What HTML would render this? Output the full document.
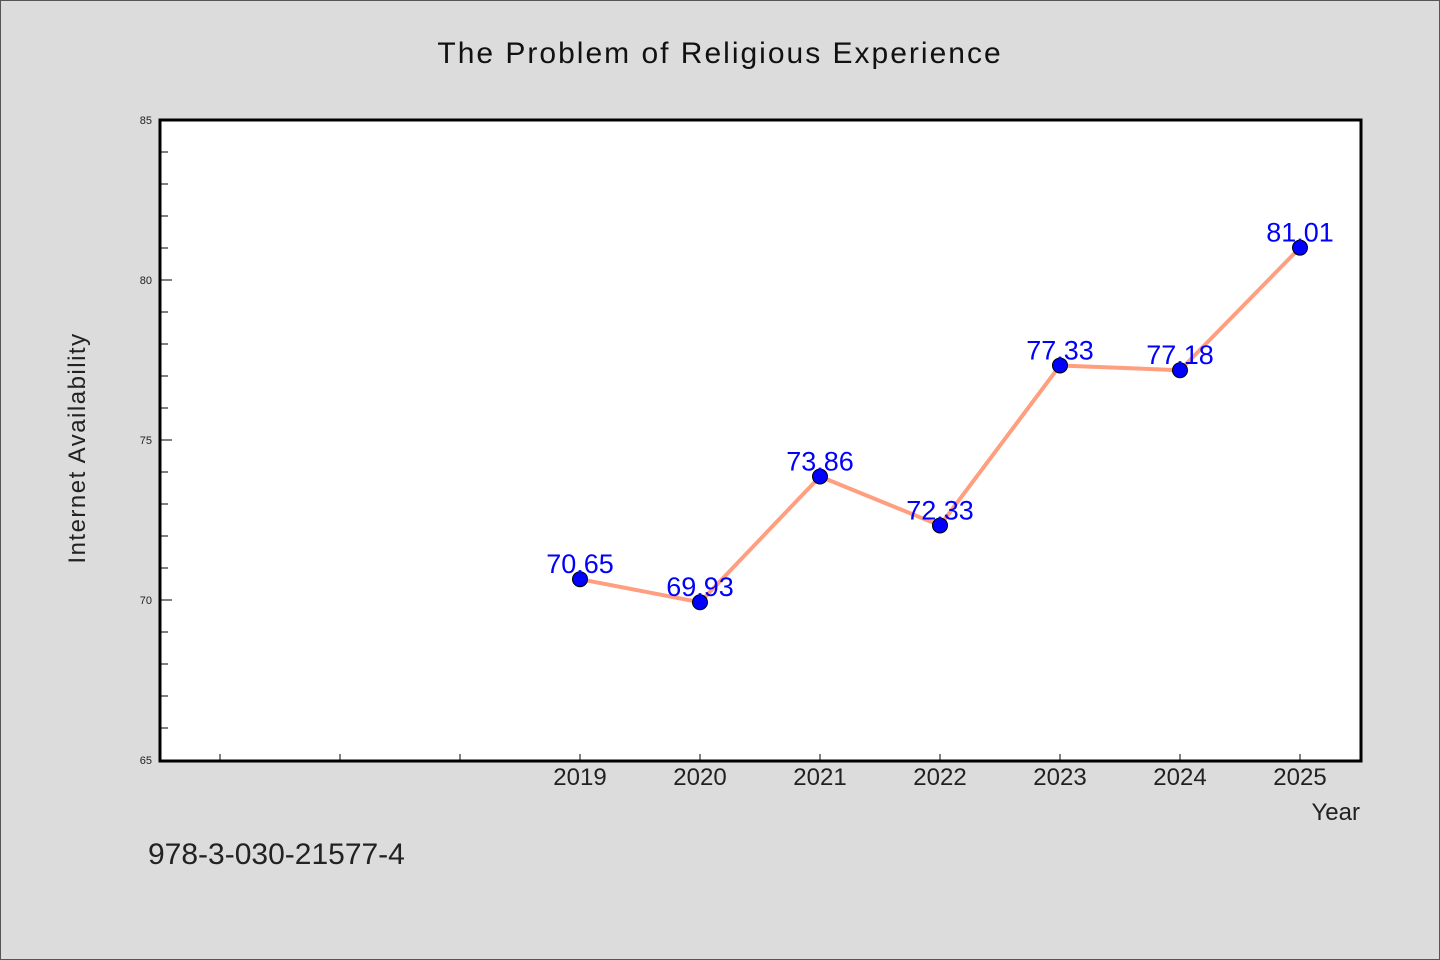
<!DOCTYPE html>
<html><head><meta charset="utf-8"><style>
html,body{margin:0;padding:0;background:#dcdcdc;}
svg{display:block;}
text{font-family:"WenQuanYi Zen Hei","Liberation Sans",sans-serif;}
</style></head><body>
<svg id="chart" width="1440" height="960" xmlns="http://www.w3.org/2000/svg">
<rect x="0.5" y="0.5" width="1439" height="959" fill="#dcdcdc" stroke="#555"/>
<text x="720" y="63" text-anchor="middle" font-size="30" fill="#111" letter-spacing="2">The Problem of Religious Experience</text>
<rect x="160" y="120" width="1201" height="641" fill="#fff"/>
<g id="axes"></g>
<g id="series"></g>
<rect x="160" y="120" width="1201" height="641" fill="none" stroke="#000" stroke-width="3"/>
<text x="85" y="448" text-anchor="middle" font-size="24" fill="#222" letter-spacing="1.5" transform="rotate(-90 85 448)">Internet Availability</text>
<text x="1360" y="820" text-anchor="end" font-size="24" fill="#222">Year</text>
<text x="148" y="864" font-size="30" fill="#222">978-3-030-21577-4</text>
</svg>
<script>
const years = [2019, 2020, 2021, 2022, 2023, 2024, 2025];
const values = [70.65, 69.93, 73.86, 72.33, 77.33, 77.18, 81.01];
const yTicks = [65, 70, 75, 80, 85];
const xTickYears = [2016, 2017, 2018, 2019, 2020, 2021, 2022, 2023, 2024, 2025];

const NS = "http://www.w3.org/2000/svg";
const X0 = 160, X1 = 1360, Y0 = 760, Y1 = 120;
const xMin = 2015.5, xMax = 2025.5, yMin = 65, yMax = 85;
function xs(v){ return X0 + (v - xMin) / (xMax - xMin) * (X1 - X0); }
function ys(v){ return Y0 - (v - yMin) / (yMax - yMin) * (Y0 - Y1); }
function mk(tag, attrs, parent){ const e = document.createElementNS(NS, tag); for (const k in attrs) e.setAttribute(k, attrs[k]); parent.appendChild(e); return e; }

const axes = document.getElementById('axes');
for (let v = yMin; v <= yMax; v += 1) {
  const major = yTicks.includes(v);
  const t = mk('line', {x1: X0, x2: X0 + (major ? 12 : 8), y1: ys(v), y2: ys(v), stroke: '#000', 'stroke-width': 1}, axes);
  
  
}
yTicks.forEach(v => {
  const l = mk('text', {x: 152, y: ys(v) + 4, 'text-anchor': 'end', 'font-size': 11, fill: '#222'}, axes);
  l.textContent = v;
  
  
});
xTickYears.forEach(v => {
  const t = mk('line', {x1: xs(v), x2: xs(v), y1: Y0, y2: Y0 - 6, stroke: '#000', 'stroke-width': 1}, axes);
  
  
});
years.forEach(v => {
  const l = mk('text', {x: xs(v), y: 785, 'text-anchor': 'middle', 'font-size': 24, fill: '#222'}, axes);
  l.textContent = v;
  
  
});

const series = document.getElementById('series');
const pts = years.map((y, i) => xs(y) + ',' + ys(values[i])).join(' ');
const line = mk('polyline', {points: pts, fill: 'none', stroke: '#ff9f80', 'stroke-width': 4, 'stroke-linejoin': 'round'}, series);


years.forEach((y, i) => {
  const c = mk('circle', {cx: xs(y), cy: ys(values[i]), r: 7.5, fill: '#0000ff', stroke: '#000', 'stroke-width': 1}, series);
  
  
  const t = mk('text', {x: xs(y), y: ys(values[i]) - 6, 'text-anchor': 'middle', 'font-size': 27, fill: '#0000ff'}, series);
  t.textContent = values[i].toFixed(2);
  
  
});
</script>
</body></html>
